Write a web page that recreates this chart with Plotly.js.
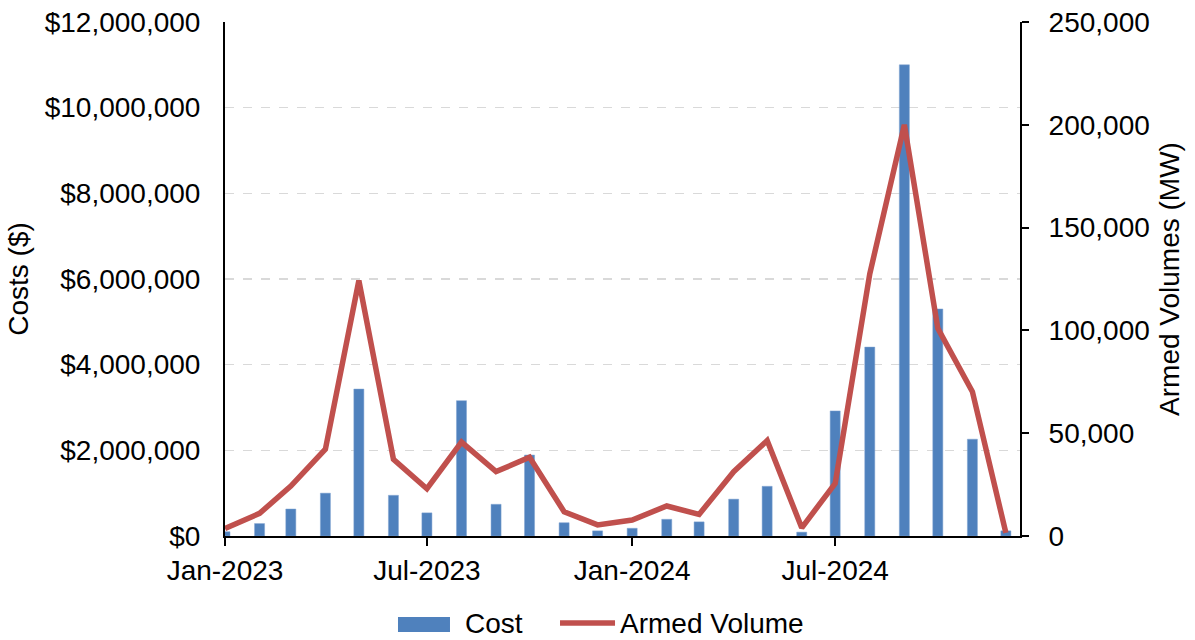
<!DOCTYPE html>
<html>
<head>
<meta charset="utf-8">
<script src="https://cdn.plot.ly/plotly-3.0.1.min.js"></script>
<style>html,body{margin:0;padding:0;background:#fff;}#chart{width:1195px;height:640px;}</style>
</head>
<body>
<div id="chart"></div>
<script>
const months = ["2023-01-01","2023-02-01","2023-03-01","2023-04-01","2023-05-01","2023-06-01",
  "2023-07-01","2023-08-01","2023-09-01","2023-10-01","2023-11-01","2023-12-01",
  "2024-01-01","2024-02-01","2024-03-01","2024-04-01","2024-05-01","2024-06-01",
  "2024-07-01","2024-08-01","2024-09-01","2024-10-01","2024-11-01","2024-12-01"];
const costs = [100000, 290000, 630000, 1000000, 3430000, 950000, 540000, 3160000, 740000, 1890000, 310000, 120000,
  180000, 390000, 330000, 860000, 1160000, 90000, 2920000, 4410000, 11000000, 5300000, 2260000, 120000];
const armedVolume = [3700, 11000, 24300, 42200, 124200, 37300, 23000, 45700, 31300, 38300, 11800, 5400,
  7800, 14600, 10500, 31300, 46400, 4000, 25600, 127500, 200000, 101000, 70200, 1500];
const seriesNames = ["Cost", "Armed Volume"];

const FONT = "Liberation Sans, Arial, sans-serif";
const FS = 28;
const DAY = 86400000;
const BAR_COLOR = "#4F81BD";
const LINE_COLOR = "#C0504D";

const traces = [
  {
    type: "bar", name: seriesNames[0], x: months, y: costs,
    width: 9 * DAY,
    marker: {color: BAR_COLOR, line: {color: "#7FA3D1", width: 0.5}},
    yaxis: "y", xaxis: "x", showlegend: false
  },
  {
    type: "scatter", mode: "lines", name: seriesNames[1], x: months, y: armedVolume,
    line: {color: LINE_COLOR, width: 5.5},
    yaxis: "y2", xaxis: "x", showlegend: false
  }
];

// custom legend (wide bar swatch like the reference)
const shapes = [
  {type: "rect", xref: "paper", yref: "paper", x0: 0.2176, x1: 0.2830, y0: -0.1868, y1: -0.1576,
   fillcolor: BAR_COLOR, line: {width: 0}},
  {type: "line", xref: "paper", yref: "paper", x0: 0.4214, x1: 0.4906, y0: -0.1693, y1: -0.1693,
   line: {color: LINE_COLOR, width: 5.5}}
];
const annotations = [
  {xref: "paper", yref: "paper", x: 0.2994, y: -0.1712, xanchor: "left", yanchor: "middle",
   text: seriesNames[0], showarrow: false, font: {family: FONT, size: FS, color: "#000"}},
  {xref: "paper", yref: "paper", x: 0.4940, y: -0.1712, xanchor: "left", yanchor: "middle",
   text: seriesNames[1], showarrow: false, font: {family: FONT, size: FS, color: "#000"}}
];

const layout = {
  width: 1195, height: 640,
  margin: {l: 225, r: 175, t: 22, b: 104, autoexpand: false},
  paper_bgcolor: "#fff", plot_bgcolor: "#fff",
  font: {family: FONT, size: FS, color: "#000"},
  showlegend: false,
  shapes: shapes,
  annotations: annotations,
  xaxis: {
    type: "date",
    range: ["2023-01-01", "2024-12-13 16:00"],
    dtick: "M6", tick0: "2023-01-01", tickformat: "%b-%Y",
    showgrid: false, zeroline: false,
    showline: true, linecolor: "#000", linewidth: 2,
    ticks: "outside", ticklen: 8, tickwidth: 2, tickcolor: "#000",
    ticklabelstandoff: 0,
    tickfont: {family: FONT, size: FS}
  },
  yaxis: {
    range: [0, 12000000], dtick: 2000000, tick0: 0,
    tickprefix: "$", tickformat: ",d",
    showgrid: true, gridcolor: "#D9D9D9", griddash: "dash", gridwidth: 1.3,
    zeroline: false, showline: true, linecolor: "#000", linewidth: 2,
    ticks: "", ticklabelstandoff: 17,
    tickfont: {family: FONT, size: FS},
    title: {text: "Costs ($)", font: {family: FONT, size: FS}, standoff: 8}
  },
  yaxis2: {
    overlaying: "y", side: "right",
    range: [0, 250000], dtick: 50000, tick0: 0, tickformat: ",d",
    showgrid: false, zeroline: false,
    showline: true, linecolor: "#000", linewidth: 2,
    ticks: "outside", ticklen: 7, tickwidth: 2, tickcolor: "#000",
    ticklabelstandoff: 14,
    tickfont: {family: FONT, size: FS},
    title: {text: "Armed Volumes (MW)", font: {family: FONT, size: FS}, standoff: 11}
  },
  bargap: 0
};

Plotly.newPlot("chart", traces, layout, {displayModeBar: false, staticPlot: true});
</script>
</body>
</html>
